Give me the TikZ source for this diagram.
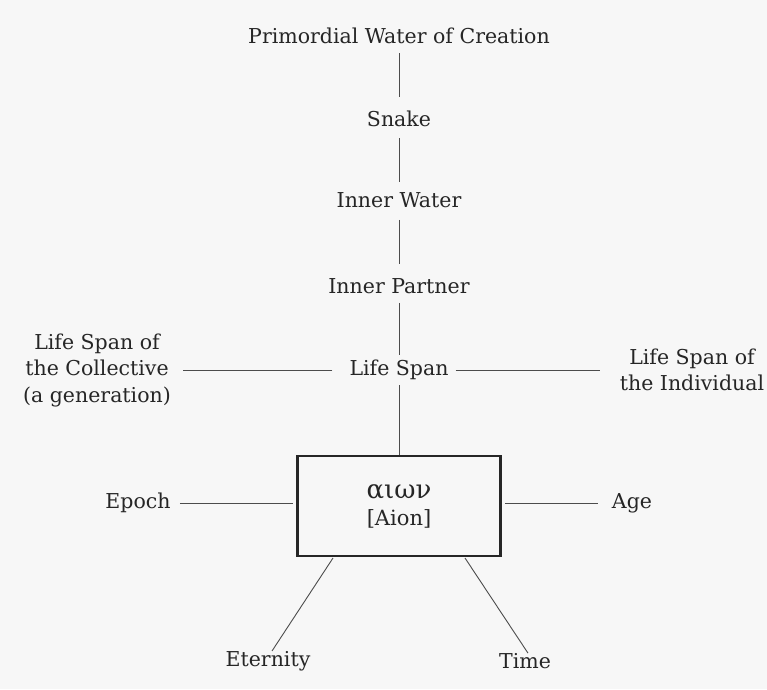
\documentclass[tikz,border=0pt]{standalone}
\usepackage{amsmath, amssymb}
\usepackage{fontspec}
\setmainfont{DejaVu Serif}
\usepackage{xcolor}

\tikzset{
  label/.style={text=black!85, font=\fontsize{20.5}{26.5}\selectfont, align=center, inner sep=2pt},
  link/.style={draw=black!70, line width=0.9pt},
  aionbox/.style={draw=black!85, line width=2.2pt, minimum width=203pt, minimum height=100pt, text=black!85, font=\fontsize{21}{27}\selectfont, align=center}
}

\begin{document}
\begin{tikzpicture}[x=1pt, y=-1pt]
        % Background and frame
        \useasboundingbox[fill=black!3] (0,0) rectangle (767,689);

        % Vertical chain
        \node[label] (water) at (399,36) {Primordial Water of Creation};
        \node[label] (snake) at (399,119) {Snake};
        \node[label] (inwater) at (399,200) {Inner Water};
        \node[label] (partner) at (399,286) {Inner Partner};
        \node[label] (span) at (399,370) {Life Span};

        \draw[link, shorten <=7pt, shorten >=12pt] (water) -- (snake);
        \draw[link, shorten <=9pt, shorten >=8pt] (snake) -- (inwater);
        \draw[link, shorten <=10pt, shorten >=12pt] (inwater) -- (partner);
        \draw[link, shorten <=7pt, shorten >=3pt] (partner) -- (span);

        % Side spans
        \node[label] (collective) at (97,370) {Life Span of\\the Collective\\(a generation)};
        \node[label] (individual) at (692,370) {Life Span of\\the Individual};
        \draw[link, shorten <=15pt, shorten >=10pt] (span) -- (collective);
        \draw[link, shorten <=5pt, shorten >=18pt] (span) -- (individual);

        % The box
        \node[aionbox] (aion) at (399,506) {{\fontsize{26}{27}\selectfont αιων}\\{}[Aion]};
        \draw[link, shorten <=3pt] (span) -- (aion);

        % Epoch and Age
        \node[label] (epoch) at (138,503) {Epoch};
        \node[label] (age) at (632,503) {Age};
        \draw[link, shorten <=7pt, shorten >=3pt] (epoch) -- (epoch -| aion.west);
        \draw[link, shorten <=12pt, shorten >=3pt] (age) -- (age -| aion.east);

        % Eternity and Time
        \node[label] (eternity) at (268,661) {Eternity};
        \node[label] (time) at (525,661) {Time};
        \coordinate (efoot) at (333,558);
        \coordinate (tfoot) at (465,558);
        \draw[link] (efoot) -- ([xshift=4pt, yshift=-2pt]eternity.north);
        \draw[link] (tfoot) -- ([xshift=3pt, yshift=-2pt]time.north);
    \end{tikzpicture}
\end{document}
